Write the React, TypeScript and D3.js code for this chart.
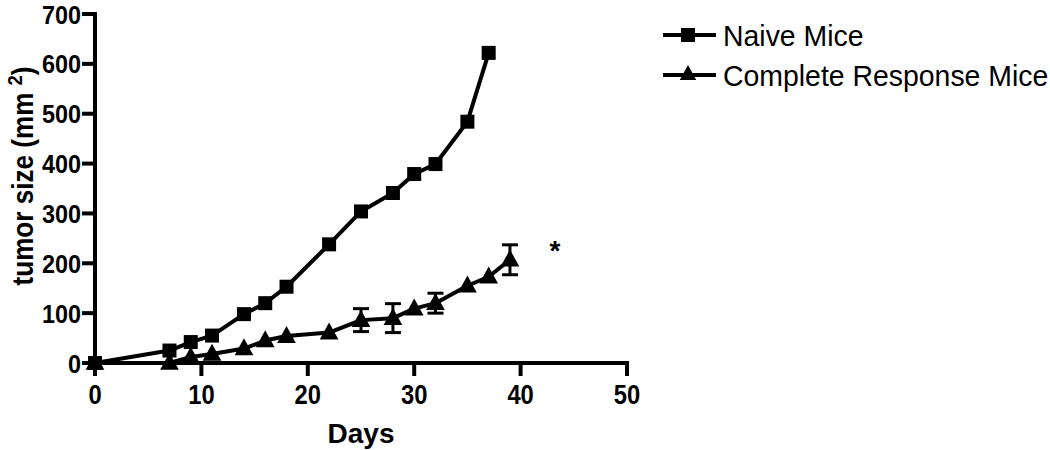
import React from "react";
import * as d3 from "d3";

const naiveDays = [0, 7, 9, 11, 14, 16, 18, 22, 25, 28, 30, 32, 35, 37];
const naiveValues = [0, 25, 42, 55, 98, 120, 153, 238, 304, 341, 379, 399, 484, 622];

const crDays = [0, 7, 9, 11, 14, 16, 18, 22, 25, 28, 30, 32, 35, 37, 39];
const crValues = [0, 0, 12, 18, 29, 45, 54, 61, 86, 90, 109, 120, 155, 173, 207];
const crErrors = [0, 0, 0, 0, 0, 0, 0, 0, 23, 29, 0, 20, 0, 0, 30];

const xTicks = [0, 10, 20, 30, 40, 50];
const yTicks = [0, 100, 200, 300, 400, 500, 600, 700];

const seriesNames = ["Naive Mice", "Complete Response Mice"];

function CText(props: {
  x: number;
  y: number;
  sx?: number;
  rotate?: number;
  children: React.ReactNode;
  [k: string]: any;
}) {
  const { x, y, sx = 1, rotate = 0, children, ...rest } = props;
  return (
    <text transform={`translate(${x},${y}) rotate(${rotate}) scale(${sx},1)`} {...rest}>
      {children}
    </text>
  );
}

export default function App() {
  const x = d3.scaleLinear().domain([0, 50]).range([95, 627]);
  const y = d3.scaleLinear().domain([0, 700]).range([363, 14]);
  const line = d3.line<[number, number]>().x((d) => x(d[0])).y((d) => y(d[1]));
  const naive: [number, number][] = naiveDays.map((d, i) => [d, naiveValues[i]]);
  const cr: [number, number][] = crDays.map((d, i) => [d, crValues[i]]);
  const sq = 14;
  const tri = (cx: number, cy: number, s: number) =>
    `M${cx},${cy - s * 0.6} L${cx + s * 0.55},${cy + s * 0.4} L${cx - s * 0.55},${cy + s * 0.4} Z`;
  const font = "Liberation Sans, Arial, sans-serif";
  return (
    <svg width={1050} height={450} style={{ position: "absolute", left: 0, top: 0 }} fontFamily={font}>
      <rect width={1050} height={450} fill="#fff" />
      {/* axes */}
      <line x1={x(0)} x2={x(0)} y1={y(700) - 2} y2={y(0) + 2} stroke="#000" strokeWidth={4} />
      <line x1={x(0) - 2} x2={x(50) + 2} y1={y(0)} y2={y(0)} stroke="#000" strokeWidth={4} />
      {yTicks.map((t) => (
        <g key={"y" + t}>
          <line x1={x(0) - 13} x2={x(0)} y1={y(t)} y2={y(t)} stroke="#000" strokeWidth={4} />
          <CText x={x(0) - 14} y={y(t) + 9.5} sx={0.9} textAnchor="end" fontSize={26} fontWeight="bold">
            {t}
          </CText>
        </g>
      ))}
      {xTicks.map((t) => (
        <g key={"x" + t}>
          <line x1={x(t)} x2={x(t)} y1={y(0)} y2={y(0) + 13} stroke="#000" strokeWidth={4} />
          <CText x={x(t)} y={404} sx={0.88} textAnchor="middle" fontSize={27} fontWeight="bold">
            {t}
          </CText>
        </g>
      ))}
      <CText x={361} y={443} textAnchor="middle" fontSize={28} fontWeight="bold">
        Days
      </CText>
      <CText x={33} y={176} rotate={-90} sx={0.87} textAnchor="middle" fontSize={30} fontWeight="bold">
        tumor size (mm <tspan dy={-11} fontSize={21}>2</tspan>
        <tspan dy={11}>)</tspan>
      </CText>
      {/* CR series */}
      <path d={line(cr) || ""} fill="none" stroke="#000" strokeWidth={4} strokeLinejoin="round" />
      {cr.map((d, i) =>
        crErrors[i] > 0 ? (
          <g key={"e" + i} stroke="#000" strokeWidth={3}>
            <line x1={x(d[0])} x2={x(d[0])} y1={y(d[1] + crErrors[i])} y2={y(d[1] - crErrors[i])} />
            <line x1={x(d[0]) - 8} x2={x(d[0]) + 8} y1={y(d[1] + crErrors[i])} y2={y(d[1] + crErrors[i])} />
            <line x1={x(d[0]) - 8} x2={x(d[0]) + 8} y1={y(d[1] - crErrors[i])} y2={y(d[1] - crErrors[i])} />
          </g>
        ) : null
      )}
      {cr.map((d, i) => (
        <path key={"t" + i} d={tri(x(d[0]), y(d[1]), 17)} fill="#000" />
      ))}
      {/* Naive series */}
      <path d={line(naive) || ""} fill="none" stroke="#000" strokeWidth={4} strokeLinejoin="round" />
      {naive.map((d, i) => (
        <rect key={"s" + i} x={x(d[0]) - sq / 2} y={y(d[1]) - sq / 2} width={sq} height={sq} fill="#000" />
      ))}
      <CText x={555} y={260} textAnchor="middle" fontSize={28} fontWeight="bold">
        *
      </CText>
      {/* legend */}
      <g>
        <line x1={663} x2={716} y1={35} y2={35} stroke="#000" strokeWidth={4} />
        <rect x={688 - 7} y={35 - 7} width={14} height={14} fill="#000" />
        <CText x={723} y={46} sx={0.98} fontSize={29}>
          {seriesNames[0]}
        </CText>
        <line x1={663} x2={716} y1={75} y2={75} stroke="#000" strokeWidth={4} />
        <path d={tri(688, 74, 15)} fill="#000" />
        <CText x={723} y={86} sx={0.98} fontSize={29}>
          {seriesNames[1]}
        </CText>
      </g>
    </svg>
  );
}
